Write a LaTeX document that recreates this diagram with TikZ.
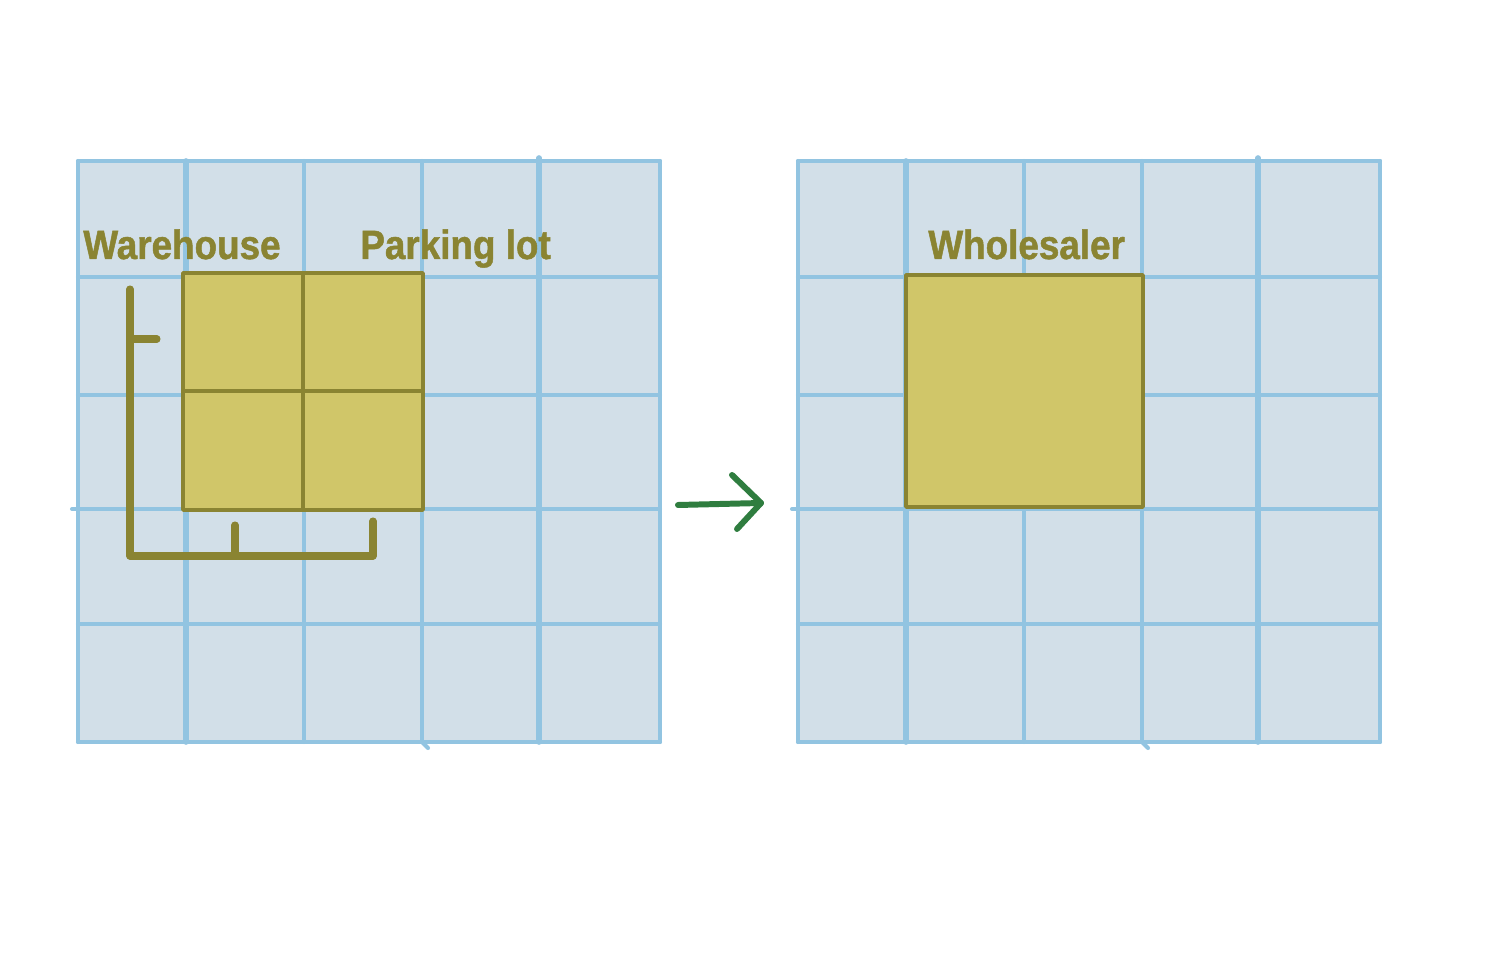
\documentclass[tikz,border=0pt]{standalone}
\usepackage{fontspec}
\setmainfont{Liberation Sans}
\newfontfamily\lblfont[FakeBold=1.2,FakeStretch=0.9]{Liberation Sans Bold}
\definecolor{gridfill}{HTML}{D2DFE8}
\definecolor{gridline}{HTML}{92C4E1}
\definecolor{zonefill}{HTML}{D0C669}
\definecolor{zoneline}{HTML}{8A8432}
\definecolor{arrowgreen}{HTML}{2F7D3F}
\tikzset{
  gline/.style={draw=gridline, line width=2.3pt, line cap=round},
  gthick/.style={draw=gridline, line width=3.2pt, line cap=round},
  zone/.style={draw=zoneline, fill=zonefill, line width=2pt, line join=round},
  bracket/.style={draw=zoneline, line width=4pt, line cap=round, line join=round},
  lbl/.style={text=zoneline, font=\lblfont\fontsize{23.3}{26}\selectfont, inner sep=0pt, anchor=base west},
  arr/.style={draw=arrowgreen, line width=3.4pt, line cap=round, line join=round}
}
\begin{document}
\begin{tikzpicture}[x=0.02cm,y=-0.02cm]
\useasboundingbox[fill=white] (0,0) rectangle (1500,972);
% ---------- left grid ----------
\fill[gridfill] (78,161) rectangle (660,742);
\foreach \yy in {161,277,395,509,624,742} \draw[gline] (78,\yy) -- (660,\yy);
\foreach \xx in {78,304,422,660} \draw[gline] (\xx,161) -- (\xx,742);
\draw[gthick] (186,161) -- (186,742);
\draw[gthick] (539,158) -- (539,742);
\draw[gline] (72,509) -- (78,509);
\draw[gline] (422,742) -- (428,748);
% ---------- right grid ----------
\fill[gridfill] (798,161) rectangle (1380,742);
\foreach \yy in {161,277,395,509,624,742} \draw[gline] (798,\yy) -- (1380,\yy);
\foreach \xx in {798,1024,1142,1380} \draw[gline] (\xx,161) -- (\xx,742);
\draw[gthick] (906,161) -- (906,742);
\draw[gthick] (1258,158) -- (1258,742);
\draw[gline] (792,509) -- (798,509);
\draw[gline] (1142,742) -- (1148,748);
% ---------- left zones ----------
\draw[zone] (183,273) rectangle (303,391);
\draw[zone] (303,273) rectangle (423,391);
\draw[zone] (183,391) rectangle (303,510);
\draw[zone] (303,391) rectangle (423,510);
\node[lbl] (wh) at (83,259) {Warehouse};
\node[lbl] (pl) at (360,259) {Parking lot};
% bracket
\coordinate (b1) at (130,289);
\coordinate (b2) at (130,556);
\coordinate (b3) at (373,556);
\coordinate (b4) at (373,521);
\coordinate (t1) at (130,339);
\coordinate (t2) at (157,339);
\coordinate (u1) at (235,556);
\coordinate (u2) at (235,525);
\draw[bracket] (b1) -- (b2) -- (b3) -- (b4);
\draw[bracket] (t1) -- (t2);
\draw[bracket] (u1) -- (u2);
% ---------- right zone ----------
\draw[zone] (906,275) rectangle (1143,507);
\node[lbl] (ws) at (928,259) {Wholesaler};
% ---------- arrow ----------
\coordinate (a0) at (678,505);
\coordinate (a1) at (761,503);
\coordinate (h1) at (732,475);
\coordinate (h2) at (737,529);
\draw[arr] (a0) -- (a1);
\draw[arr] (h1) -- (a1) -- (h2);
\end{tikzpicture}
\end{document}
